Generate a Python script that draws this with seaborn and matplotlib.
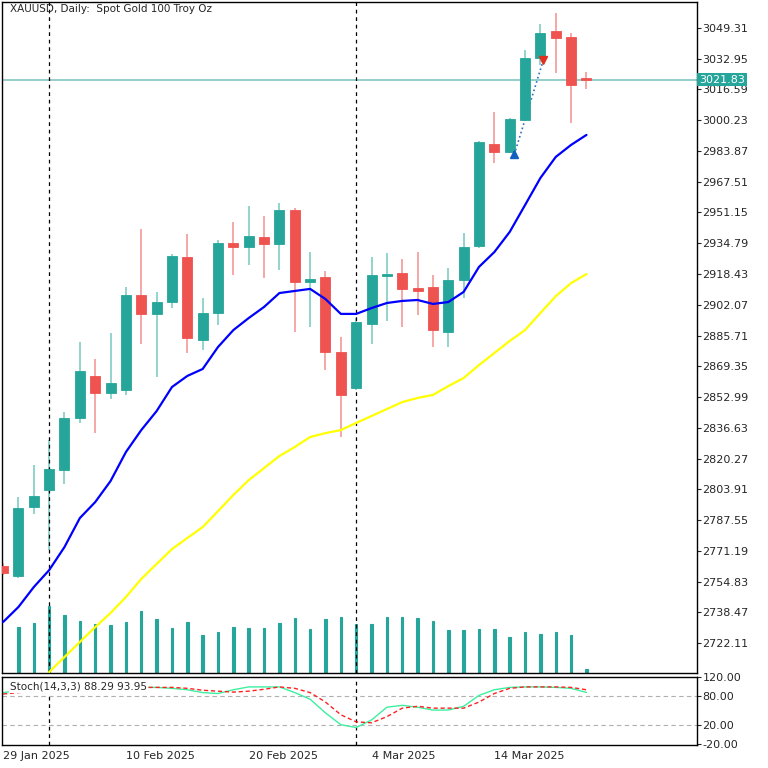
import numpy as np
import pandas as pd
import matplotlib
matplotlib.use("Agg")
import matplotlib.pyplot as plt
import seaborn as sns

sns.set_style("white")
plt.rcParams["font.family"] = "DejaVu Sans"

opens  = [2763.1,2757.8,2794.5,2803.5,2814.2,2841.8,2864.2,2855.1,2856.7,2907.3,
          2897.2,2903.5,2927.5,2883.3,2897.7,2934.9,2932.8,2938.1,2934.4,2952.5,
          2914.2,2916.8,2876.9,2857.8,2891.8,2917.4,2919.0,2911.0,2911.5,2887.6,
          2915.2,2933.3,2987.6,2983.3,3000.4,3033.3,3047.7,3044.5,3022.2]
highs  = [2764.7,2799.8,2816.8,2830.1,2845.0,2882.3,2873.2,2887.0,2911.5,2942.4,
          2908.9,2929.1,2939.7,2905.7,2936.5,2946.1,2954.6,2949.3,2956.2,2953.5,
          2930.1,2920.0,2884.9,2895.0,2927.5,2929.6,2926.4,2930.1,2917.9,2921.6,
          2940.2,2989.2,3004.6,3001.4,3037.6,3051.4,3057.3,3046.6,3025.9]
lows   = [2758.3,2756.7,2790.8,2771.6,2806.7,2839.2,2833.8,2851.9,2854.1,2881.2,
          2863.6,2900.3,2876.4,2878.0,2891.3,2917.9,2923.2,2916.3,2920.6,2887.6,
          2890.2,2867.4,2831.7,2856.7,2881.2,2893.4,2890.2,2896.6,2879.6,2879.6,
          2905.7,2932.3,2977.5,2982.8,2999.8,3029.6,3025.4,2998.8,3016.9]
closes = [2759.4,2793.9,2800.3,2814.7,2841.8,2866.8,2855.1,2860.4,2907.3,2897.2,
          2903.5,2928.0,2884.4,2897.7,2934.9,2932.8,2938.6,2934.4,2952.5,2914.2,
          2915.8,2876.9,2854.1,2892.9,2917.9,2918.4,2910.5,2909.4,2888.6,2915.2,
          2932.8,2988.7,2983.3,3000.9,3033.3,3046.6,3044.0,3019.0,3021.83]
volumes = [np.nan,46000,50000,67000,58000,52000,49000,48000,51000,62000,54000,
           45000,51000,38000,41000,46000,45000,45000,50000,55000,44000,
           54000,56000,49000,49000,56000,56000,55000,52000,43000,43000,
           44000,44000,36000,41000,39000,41000,38000,4000]
ma_fast = [2733.3,2741.3,2751.9,2760.9,2773.2,2788.6,2797.1,2808.3,2823.7,2835.4,
           2845.5,2858.3,2864.2,2867.9,2879.6,2888.6,2895.0,2900.9,2908.3,2909.4,
           2910.5,2905.1,2897.2,2897.2,2900.3,2903.0,2904.1,2904.6,2902.5,2903.5,
           2908.9,2922.2,2930.1,2940.8,2955.1,2969.5,2980.7,2987.1,2992.4]
ma_slow = [np.nan,np.nan,np.nan,
           2706.7,2714.7,2722.7,2730.6,2738.1,2746.6,2756.2,2764.2,2772.1,2778.0,
           2783.8,2792.3,2800.9,2808.8,2815.2,2821.6,2826.4,2831.7,2833.8,2835.4,
           2839.2,2842.9,2846.6,2850.3,2852.5,2854.1,2858.8,2863.1,2870.0,2876.4,
           2882.8,2888.6,2897.7,2906.6,2913.6,2918.4]
stoch_main = [88,92,95,97,98,99,98,97,98,99,
              99,97,94,88,86,94,100,100,100,88,
              74,45,20,14,30,57,61,57,51,51,
              59,82,94,99,100,100,99,97,88.29]
stoch_signal = [85,88,91,94,96,98,98,98,98,99,
                99,99,97,93,91,89,91,95,100,97,
                88,68,41,26,24,37,55,59,55,55,
                55,68,86,97,100,100,100,99,93.95]
date_ticks = [0, 8, 16, 24, 32]
date_labels = ["29 Jan 2025", "10 Feb 2025", "20 Feb 2025", "4 Mar 2025", "14 Mar 2025"]
price_ticks = [3049.31,3032.95,3016.59,3000.23,2983.87,2967.51,2951.15,2934.79,2918.43,
               2902.07,2885.71,2869.35,2852.99,2836.63,2820.27,2803.91,2787.55,2771.19,
               2754.83,2738.47,2722.11]
stoch_ticks = [120, 80, 20, -20]
current_price = 3021.83
vlines_idx = [3, 23]
buy_arrow = (33.3, 2982.0)
sell_arrow = (35.2, 3032.5)

df = pd.DataFrame({"i": np.arange(len(opens)), "o": opens, "h": highs, "l": lows,
                   "c": closes, "v": volumes, "maf": ma_fast, "mas": ma_slow,
                   "k": stoch_main, "d": stoch_signal})

GREEN, RED = "#26A69A", "#EF5350"
W = 768
fig = plt.figure(figsize=(7.68, 7.68), dpi=100)
ax = fig.add_axes([2/W, 1-673/W, 695/W, 671/W])
ax2 = fig.add_axes([2/W, 1-745/W, 695/W, 68/W])
xlim = (-0.07, 45.2)

# volume
axv = ax.twinx()
axv.set_ylim(0, 671000)
vd = df.dropna(subset=["v"])
axv.bar(vd.i, vd.v, width=0.16, color=GREEN, edgecolor=GREEN, lw=0.8, zorder=1)
axv.axis("off")
ax.set_zorder(axv.get_zorder() + 1)
ax.patch.set_visible(False)

up = df.c >= df.o
colors = np.where(up, GREEN, RED)
wick_colors = np.where(up, "#7fcdc4", "#f49a98")
ax.vlines(df.i, df.l, df.h, colors=wick_colors, lw=1.2, zorder=2)
ax.bar(df.i, (df.c - df.o).abs().clip(lower=0.9), bottom=np.minimum(df.o, df.c),
       width=0.65, color=colors, edgecolor=colors, lw=0.6, zorder=3)

sns.lineplot(data=df, x="i", y="maf", ax=ax, color="#0000ff", lw=1.6, zorder=4)
sns.lineplot(data=df, x="i", y="mas", ax=ax, color="#ffff00", lw=1.6, zorder=4)

ax.axhline(current_price, color="#80c8c0", lw=1.2, zorder=1)
for v in vlines_idx:
    ax.axvline(v, color="black", ls=(0, (3, 3)), lw=0.9)
    ax2.axvline(v, color="black", ls=(0, (3, 3)), lw=0.9)

ax.plot([buy_arrow[0], sell_arrow[0]], [buy_arrow[1], sell_arrow[1]], ls=":", color="#3070c0", lw=1.2)
ax.plot(*buy_arrow, marker="^", color="#1060c0", ms=6, zorder=5)
ax.plot(*sell_arrow, marker="v", color="#e03020", ms=6, zorder=5)

ax.set_xlim(*xlim)
ax.set_ylim(2706.2, 3063.1)
ax.yaxis.tick_right()
ax.set_yticks(price_ticks)
ax.set_yticklabels([f"{t:.2f}" for t in price_ticks], fontsize=8)
ax.tick_params(axis="y", length=3, pad=1)
ax.set_xticks([])
ax.set_xlabel(""); ax.set_ylabel("")
ax.text(0.012, 0.997, "XAUUSD, Daily:  Spot Gold 100 Troy Oz", transform=ax.transAxes,
        fontsize=7.5, va="top", ha="left")
ax.text(1.003, current_price, "3021.83", transform=ax.get_yaxis_transform(), fontsize=8,
        color="white", va="center", ha="left",
        bbox=dict(boxstyle="square,pad=0.15", fc="#26A69A", ec="none"))
for s in ax.spines.values():
    s.set_color("black"); s.set_linewidth(1)

# stochastic
ax2.axhline(80, color="#b0b0b0", ls=(0, (4, 3)), lw=0.8)
ax2.axhline(20, color="#b0b0b0", ls=(0, (4, 3)), lw=0.8)
sns.lineplot(data=df, x="i", y="k", ax=ax2, color="#3cf0a0", lw=1.0)
sns.lineplot(data=df, x="i", y="d", ax=ax2, color="#ff2020", lw=1.0, ls=(0, (3, 2)))
ax2.set_xlim(*xlim)
ax2.set_ylim(-23, 121)
ax2.yaxis.tick_right()
ax2.set_yticks(stoch_ticks)
ax2.set_yticklabels([f"{t:.2f}" for t in stoch_ticks], fontsize=8)
ax2.tick_params(axis="y", length=3, pad=1)
ax2.set_xticks(date_ticks)
ax2.set_xticklabels(date_labels, fontsize=8, ha="left")
ax2.tick_params(axis="x", length=3, pad=1, direction="out")
ax2.set_xlabel(""); ax2.set_ylabel("")
ax2.text(0.012, 0.93, "Stoch(14,3,3) 88.29 93.95", transform=ax2.transAxes, fontsize=7.5,
         va="top", ha="left", bbox=dict(boxstyle="square,pad=0.1", fc="white", ec="none"))
for s in ax2.spines.values():
    s.set_color("black"); s.set_linewidth(1)

fig.savefig("out.png", dpi=100)
